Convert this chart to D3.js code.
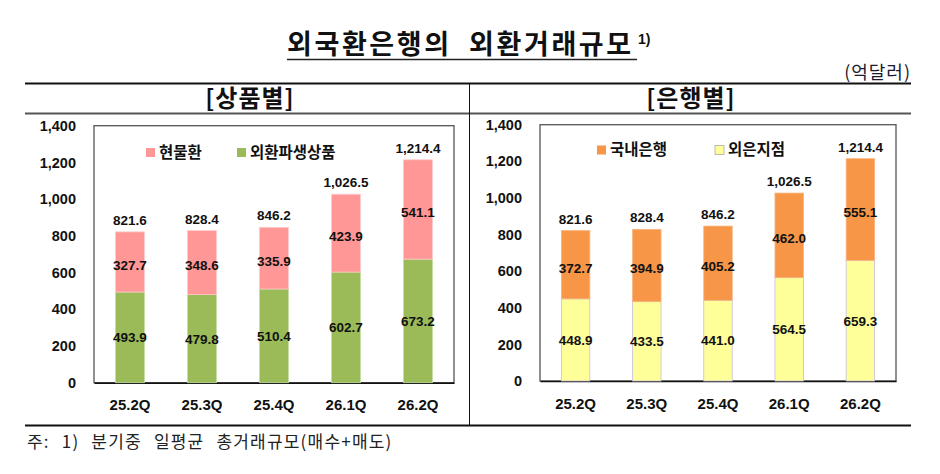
<!DOCTYPE html>
<html>
<head>
<meta charset="utf-8">
<script src="https://cdn.jsdelivr.net/npm/d3@7"></script>
<style>
  body { margin: 0; background: #fff; }
  svg { display: block; }
  .kr { font-family: "Noto Sans CJK KR", sans-serif; }
  .num { font-family: "Liberation Sans", Arial, sans-serif; font-weight: bold; fill: #111; }
</style>
</head>
<body>
<div id="chart"></div>
<script>
// data (억달러)
var quarters = ["25.2Q", "25.3Q", "25.4Q", "26.1Q", "26.2Q"];
var spot = [327.7, 348.6, 335.9, 423.9, 541.1];          // 현물환
var derivatives = [493.9, 479.8, 510.4, 602.7, 673.2];  // 외환파생상품
var domestic = [372.7, 394.9, 405.2, 462.0, 555.1];     // 국내은행
var foreignBr = [448.9, 433.5, 441.0, 564.5, 659.3];    // 외은지점
var totals = [821.6, 828.4, 846.2, 1026.5, 1214.4];
var yTicks = [0, 200, 400, 600, 800, 1000, 1200, 1400];

var svg = d3.select("#chart").append("svg")
    .attr("width", 940)
    .attr("height", 474);

svg.append("rect").attr("width", 940).attr("height", 474).attr("fill", "#fff");

// title
svg.append("text")
    .attr("class", "kr")
    .attr("x", 287).attr("y", 54)
    .attr("font-size", 27).attr("font-weight", "bold")
    .attr("letter-spacing", 2.6)
    .attr("fill", "#111")
    .attr("xml:space", "preserve")
    .text("외국환은행의  외환거래규모");
svg.append("line").attr("x1", 287).attr("x2", 637).attr("y1", 59.5).attr("y2", 59.5)
    .attr("stroke", "#222").attr("stroke-width", 1.5);
svg.append("text").attr("x", 638).attr("y", 44)
    .attr("font-family", "Liberation Sans, Arial").attr("font-size", 14).attr("font-weight", "bold")
    .attr("fill", "#111").text("1)");

svg.append("text").attr("class", "kr")
    .attr("x", 911).attr("y", 79).attr("text-anchor", "end")
    .attr("font-size", 18).attr("letter-spacing", 1).attr("fill", "#1a1a2e")
    .text("(억달러)");

// table frame
svg.append("line").attr("x1", 25).attr("x2", 911).attr("y1", 83.5).attr("y2", 83.5)
    .attr("stroke", "#111").attr("stroke-width", 2);
svg.append("line").attr("x1", 25).attr("x2", 911).attr("y1", 113.5).attr("y2", 113.5)
    .attr("stroke", "#555").attr("stroke-width", 2);
svg.append("line").attr("x1", 25).attr("x2", 911).attr("y1", 425.5).attr("y2", 425.5)
    .attr("stroke", "#111").attr("stroke-width", 2);
svg.append("line").attr("x1", 469.5).attr("x2", 469.5).attr("y1", 83).attr("y2", 426)
    .attr("stroke", "#111").attr("stroke-width", 1);

svg.append("text").attr("class", "kr")
    .attr("x", 250).attr("y", 107).attr("text-anchor", "middle")
    .attr("font-size", 24).attr("font-weight", "bold").attr("letter-spacing", 1).attr("fill", "#111")
    .text("[상품별]");
svg.append("text").attr("class", "kr")
    .attr("x", 691).attr("y", 107).attr("text-anchor", "middle")
    .attr("font-size", 24).attr("font-weight", "bold").attr("letter-spacing", 1).attr("fill", "#111")
    .text("[은행별]");

svg.append("text").attr("class", "kr")
    .attr("x", 27).attr("y", 448)
    .attr("font-size", 17).attr("letter-spacing", 1.2).attr("word-spacing", 7).attr("fill", "#222")
    .text("주: 1) 분기중 일평균 총거래규모(매수+매도)");

function drawPanel(p) {
    var g = svg.append("g");
    var x = d3.scaleBand().domain(quarters).range([p.left, p.right]).paddingInner(0.6).paddingOuter(0.3);
    var y = d3.scaleLinear().domain([0, 1400]).range([p.bottom, p.top]);

    g.append("rect")
        .attr("x", p.left).attr("y", p.top)
        .attr("width", p.right - p.left).attr("height", p.bottom - p.top)
        .attr("fill", "none").attr("stroke", "#555").attr("stroke-width", 1.3);

    var yAxis = g.append("g")
        .attr("transform", "translate(" + p.tickX + ",0)")
        .call(d3.axisLeft(y).tickValues(yTicks).tickSize(0).tickPadding(0).tickFormat(d3.format(",")));
    yAxis.select(".domain").remove();
    yAxis.selectAll("text").attr("class", "num").attr("font-size", 14.5);

    var xAxis = g.append("g")
        .attr("transform", "translate(0," + p.bottom + ")")
        .call(d3.axisBottom(x).tickSize(0).tickPadding(17));
    xAxis.select(".domain").attr("stroke", "#111").attr("stroke-width", 1.6);
    xAxis.selectAll("text").attr("class", "num").attr("font-size", 15);

    var rows = quarters.map(function (q, i) {
        return { q: q, a: p.lower[i], b: p.upper[i], t: totals[i] };
    });

    var bars = g.selectAll(".bar").data(rows).enter().append("g");
    bars.append("rect")
        .attr("x", function (d) { return x(d.q); })
        .attr("y", function (d) { return y(d.a); })
        .attr("width", x.bandwidth())
        .attr("height", function (d) { return y(0) - y(d.a); })
        .attr("fill", p.colors[1]).attr("stroke", p.edges[1]).attr("stroke-width", 0.8);
    bars.append("rect")
        .attr("x", function (d) { return x(d.q); })
        .attr("y", function (d) { return y(d.a + d.b); })
        .attr("width", x.bandwidth())
        .attr("height", function (d) { return y(d.a) - y(d.a + d.b); })
        .attr("fill", p.colors[0]).attr("stroke", p.edges[0]).attr("stroke-width", 0.8);

    var cx = function (d) { return x(d.q) + x.bandwidth() / 2; };
    bars.append("text").attr("class", "num").attr("font-size", 13.5)
        .attr("text-anchor", "middle").attr("x", cx)
        .attr("y", function (d) { return (y(d.a) + y(0)) / 2; }).attr("dy", "0.36em")
        .text(function (d) { return d3.format(".1f")(d.a); });
    bars.append("text").attr("class", "num").attr("font-size", 13.5)
        .attr("text-anchor", "middle").attr("x", cx)
        .attr("y", function (d) { return (y(d.a) + y(d.a + d.b)) / 2 + 3; }).attr("dy", "0.36em")
        .text(function (d) { return d3.format(".1f")(d.b); });
    bars.append("text").attr("class", "num").attr("font-size", 13.5)
        .attr("text-anchor", "middle").attr("x", cx)
        .attr("y", function (d) { return y(d.t) - 7; })
        .text(function (d) { return d3.format(",.1f")(d.t); });

    // legend
    p.legend.forEach(function (l, i) {
        g.append("rect").attr("x", l.x).attr("y", p.legendY - 4.5).attr("width", 9).attr("height", 9)
            .attr("fill", p.colors[i]).attr("stroke", p.legendEdges[i]).attr("stroke-width", 0.8);
        g.append("text").attr("class", "kr")
            .attr("x", l.x + 13).attr("y", p.legendY).attr("dy", "0.35em")
            .attr("font-size", 15.5).attr("font-weight", "bold").attr("fill", "#111")
            .text(l.name);
    });
}

drawPanel({
    left: 94, right: 454, top: 125.7, bottom: 382.7, tickX: 76,
    lower: derivatives, upper: spot,
    colors: ["#FF9797", "#9BBB59"], edges: ["#ffc8c8", "#c4dba0"],
    legendEdges: ["none", "none"],
    legendY: 152.5,
    legend: [{ name: "현물환", x: 146 }, { name: "외환파생상품", x: 237 }]
});

drawPanel({
    left: 540, right: 896, top: 124.7, bottom: 381, tickX: 522,
    lower: foreignBr, upper: domestic,
    colors: ["#F79646", "#FFFF99"], edges: ["#f9b380", "#c6bddc"],
    legendEdges: ["none", "#aaa"],
    legendY: 150,
    legend: [{ name: "국내은행", x: 597 }, { name: "외은지점", x: 715 }]
});
</script>
</body>
</html>
